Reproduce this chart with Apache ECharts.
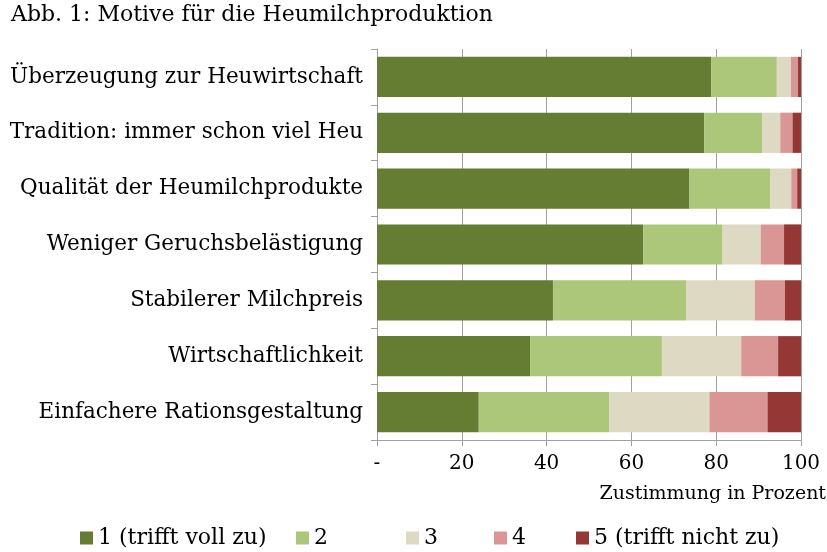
<!DOCTYPE html>
<html><head><meta charset="utf-8">
<script src="https://cdn.jsdelivr.net/npm/echarts@6/dist/echarts.min.js"></script>
<style>html,body{margin:0;padding:0;background:#fff}#c{width:827px;height:552px}</style>
</head><body><div id="c"></div>
<script>
const categories = ["Überzeugung zur Heuwirtschaft","Tradition: immer schon viel Heu","Qualität der Heumilchprodukte","Weniger Geruchsbelästigung","Stabilerer Milchpreis","Wirtschaftlichkeit","Einfachere Rationsgestaltung"];
const seriesNames = ["1 (trifft voll zu)","2","3","4","5 (trifft nicht zu)"];
const s1 = [78.8,77.2,73.7,62.8,41.5,36.1,24.0];
const s2 = [15.5,13.6,19.1,18.7,31.4,31.1,30.8];
const s3 = [3.3,4.3,4.9,9.0,16.2,18.7,23.6];
const s4 = [1.7,2.9,1.4,5.5,7.1,8.7,13.7];
const s5 = [0.7,2.0,0.9,4.0,3.8,5.4,7.9];
const xTicks = [0,20,40,60,80,100];
const colors = ["#657d33","#adc77a","#ddd9c3","#d99694","#953735"];
const legendLeft = [75,291,401,489,571];
const FONT = "DejaVu Serif";
const values = [s1,s2,s3,s4,s5];

const chart = echarts.init(document.getElementById('c'));
chart.setOption({
  animation:false,
  textStyle:{fontFamily:FONT,color:'#000'},
  title:{text:"Abb. 1: Motive für die Heumilchproduktion",left:6,top:-1,textStyle:{fontFamily:FONT,fontSize:22,fontWeight:'normal',color:'#000'}},
  legend: seriesNames.map((n,i)=>({data:[n],left:legendLeft[i],top:522,itemWidth:13,itemHeight:13,itemGap:8,icon:'rect',textStyle:{fontFamily:FONT,fontSize:22,color:'#000'}})),
  grid:{left:377,right:26,top:49,bottom:112,containLabel:false,outerBoundsMode:'none'},
  xAxis:{type:'value',min:0,max:100,interval:20,
    axisLine:{show:true,lineStyle:{color:'#a0a0a0'}},
    axisTick:{show:true,length:6,lineStyle:{color:'#a0a0a0'}},
    splitLine:{show:true,lineStyle:{color:'#a0a0a0',width:1}},
    axisLabel:{fontFamily:FONT,fontSize:20,color:'#000',margin:14,formatter:v=>v===0?'-':String(v)},
    name:"Zustimmung in Prozent",nameLocation:'end',nameGap:25,
    nameTextStyle:{fontFamily:FONT,fontSize:19,color:'#000',align:'right',verticalAlign:'top',padding:[45,0,0,0]}
  },
  yAxis:{type:'category',data:categories,inverse:true,
    axisLine:{show:true,lineStyle:{color:'#a0a0a0'}},
    axisTick:{show:true,length:6,lineStyle:{color:'#a0a0a0'}},
    axisLabel:{fontFamily:FONT,fontSize:21.5,color:'#000',margin:14}
  },
  series: seriesNames.map((n,i)=>({name:n,type:'bar',stack:'a',data:values[i],barCategoryGap:'28%',itemStyle:{color:colors[i]}}))
});
</script></body></html>
